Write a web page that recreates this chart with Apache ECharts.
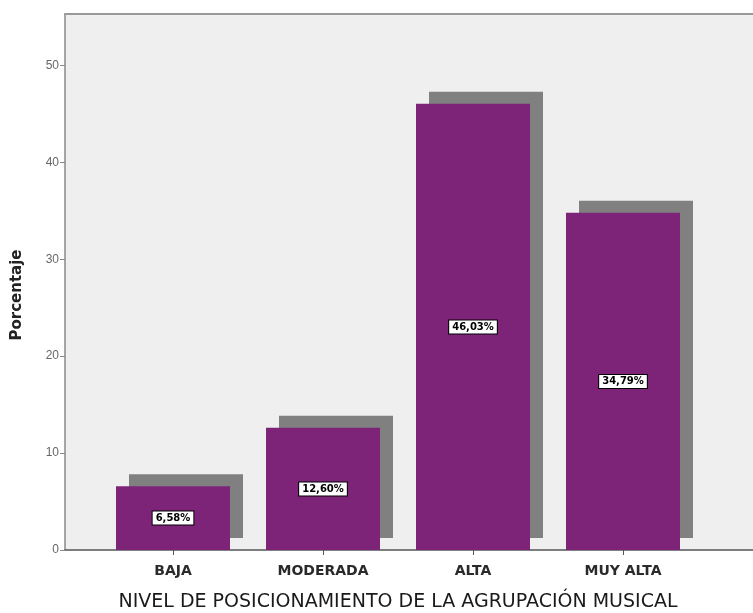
<!DOCTYPE html>
<html><head><meta charset="utf-8">
<script src="https://cdn.jsdelivr.net/npm/echarts@6/dist/echarts.min.js"></script>
<style>html,body{margin:0;padding:0;background:#fff}#c{width:753px;height:613px}</style>
</head><body><div id="c"></div>
<script>
const categories = ['BAJA', 'MODERADA', 'ALTA', 'MUY ALTA'];
const percentages = [6.58, 12.60, 46.03, 34.79];
const yTicks = [0, 10, 20, 30, 40, 50];
const xTitle = 'NIVEL DE POSICIONAMIENTO DE LA AGRUPACIÓN MUSICAL';
const yTitle = 'Porcentaje';

const chart = echarts.init(document.getElementById('c'), null, {renderer: 'canvas'});
const yMax = 55.3;
chart.setOption({
  backgroundColor: '#ffffff',
  animation: false,
  grid: [
    {left: 65, right: 0, top: 14, bottom: 63, show: true, backgroundColor: '#EFEFEF', borderWidth: 0, outerBoundsMode: 'none', containLabel: false},
    {left: 98, width: 600, top: 14, bottom: 63, outerBoundsMode: 'none', containLabel: false}
  ],
  xAxis: [
    {gridIndex: 0, type: 'value', min: 0, max: 1, position: 'bottom',
     axisLine: {show: true, lineStyle: {color: '#555', width: 1.5}},
     axisTick: {show: false}, axisLabel: {show: false}, splitLine: {show: false}},
    {gridIndex: 0, type: 'value', min: 0, max: 1, position: 'top',
     axisLine: {show: true, lineStyle: {color: '#999', width: 2}},
     axisTick: {show: false}, axisLabel: {show: false}, splitLine: {show: false}},
    {gridIndex: 1, type: 'category', data: categories, position: 'bottom',
     axisLine: {show: false},
     axisTick: {show: true, alignWithLabel: true, length: 5, lineStyle: {color: '#555'}},
     axisLabel: {color: '#2a2a2a', fontFamily: 'DejaVu Sans', fontWeight: 'bold', fontSize: 14, margin: 14},
     name: xTitle, nameLocation: 'middle', nameGap: 43,
     nameTextStyle: {color: '#1a1a1a', fontFamily: 'DejaVu Sans', fontSize: 19}}
  ],
  yAxis: [
    {gridIndex: 0, type: 'value', min: 0, max: yMax, interval: 10,
     axisLine: {show: true, lineStyle: {color: '#888', width: 1.5}},
     axisTick: {show: true, length: 5, lineStyle: {color: '#888'}, customValues: yTicks},
     axisLabel: {color: '#666', fontFamily: 'Liberation Sans Narrow, Liberation Sans', fontSize: 12, margin: 6, customValues: yTicks},
     splitLine: {show: false},
     name: yTitle, nameLocation: 'middle', nameGap: 40,
     nameTextStyle: {color: '#222', fontFamily: 'DejaVu Sans', fontWeight: 'bold', fontSize: 15, padding: [0, 26, 0, 0]}},
    {gridIndex: 1, type: 'value', min: 0, max: yMax, show: false}
  ],
  series: [{
    type: 'bar', xAxisIndex: 2, yAxisIndex: 1, data: percentages,
    barWidth: 114,
    itemStyle: {color: '#7D2478', borderWidth: 0,
      shadowColor: '#808080', shadowOffsetX: 13, shadowOffsetY: -12, shadowBlur: 0},
    label: {show: true, position: 'inside',
      formatter: p => p.value.toFixed(2).replace('.', ',') + '%',
      color: '#000', fontWeight: 'bold', fontSize: 10, fontFamily: 'DejaVu Sans',
      backgroundColor: '#fff', borderColor: '#000', borderWidth: 1, padding: [2, 3, 1, 3]}
  }]
});
</script></body></html>
